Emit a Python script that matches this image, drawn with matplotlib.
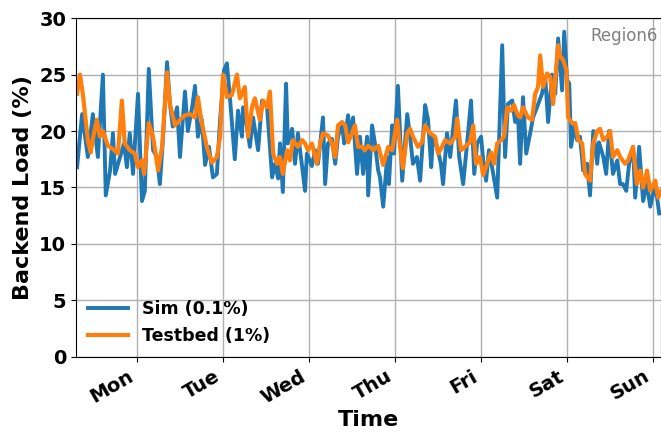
import numpy as np
import matplotlib
matplotlib.use("Agg")
import matplotlib.pyplot as plt

# ========== data (hours relative to Monday tick)

sim_hours = [-16.7, -15.3, -13.7, -12.3, -10.9, -9.5, -8.7, -7.5, -6.7, -6.1,
             -4.7, -3.6, -2.8, -2.0, -1.1, 0.3, 1.4, 2.2, 3.3, 4.5,
             5.6, 6.4, 7.3, 8.4, 9.2, 10.0, 11.2, 12.0, 13.4, 14.2,
             15.4, 16.2, 17.0, 18.1, 19.0, 20.1, 21.2, 22.3, 23.2, 24.3,
             25.1, 26.0, 26.8, 27.3, 28.2, 29.3, 29.6, 30.7, 31.5, 32.4,
             33.8, 34.9, 36.3, 37.7, 38.5, 39.4, 39.9, 40.7, 41.6, 42.1,
             43.3, 44.1, 44.9, 46.1, 46.9, 47.4, 48.8, 49.7, 50.5, 51.9,
             52.5, 53.3, 54.4, 55.3, 56.1, 57.2, 57.8, 58.9, 59.4, 60.3,
             61.4, 62.2, 63.1, 64.2, 64.5, 65.6, 66.4, 67.3, 67.8, 68.7,
             69.8, 70.3, 71.2, 71.7, 72.8, 74.0, 75.4, 76.2, 77.0, 78.1,
             79.0, 80.4, 81.2, 82.1, 82.6, 83.7, 84.8, 85.4, 86.5, 87.4,
             89.0, 89.9, 91.0, 92.1, 93.2, 94.1, 94.9, 96.0, 96.6, 97.4,
             98.2, 99.4, 100.5, 101.0, 101.9, 102.7, 103.5, 104.7, 105.5, 106.3,
             106.9, 107.7, 108.6, 109.7, 110.5, 111.6, 113.0, 113.9, 114.7, 115.8,
             116.7, 117.5, 118.6, 119.2, 120.0, 120.6, 121.1, 122.0, 122.8, 123.6,
             124.5, 125.6, 126.4, 127.3, 128.4, 128.9, 130.1, 130.9, 131.7, 132.8,
             134.0, 134.8, 135.6, 136.5, 137.3, 138.4, 139.0, 140.1, 141.2, 142.3,
             143.2, 144.6, 145.7]
sim_load = [16.8, 21.5, 17.7, 21.5, 17.7, 25.0, 14.3, 16.5, 19.8, 16.2,
            17.7, 18.9, 16.8, 19.8, 16.2, 23.3, 13.8, 14.7, 25.5, 18.3,
            17.7, 15.3, 19.5, 26.1, 22.4, 20.4, 22.1, 17.7, 23.5, 20.0,
            22.1, 24.0, 19.5, 21.0, 17.0, 18.6, 15.9, 16.2, 21.0, 25.4,
            26.0, 22.7, 19.5, 17.5, 21.8, 19.5, 22.1, 20.4, 18.6, 21.2,
            18.3, 22.7, 22.1, 15.9, 17.1, 15.8, 18.9, 14.6, 24.2, 18.9,
            20.2, 17.1, 19.8, 16.8, 14.7, 18.0, 16.9, 18.3, 17.1, 21.2,
            15.3, 18.9, 19.3, 17.1, 19.5, 20.7, 18.9, 21.4, 19.5, 21.2,
            16.2, 19.5, 16.2, 19.5, 14.3, 20.5, 18.9, 16.5, 15.9, 13.3,
            17.7, 15.3, 20.5, 18.0, 24.0, 15.6, 21.5, 19.5, 17.1, 17.7,
            15.6, 22.3, 21.0, 16.8, 19.5, 18.6, 17.1, 15.3, 19.8, 17.7,
            22.7, 17.7, 15.3, 18.9, 22.7, 16.2, 18.9, 19.5, 17.4, 15.6,
            18.3, 16.2, 14.1, 18.9, 27.6, 17.7, 22.4, 22.7, 20.8, 21.5,
            17.1, 23.0, 18.0, 19.8, 21.2, 22.1, 23.3, 24.8, 20.8, 25.0,
            23.3, 28.2, 23.6, 28.8, 24.5, 24.2, 18.6, 20.4, 19.2, 19.5,
            16.5, 17.1, 14.3, 20.0, 17.1, 19.0, 17.7, 16.2, 20.0, 16.2,
            17.4, 15.3, 15.3, 14.7, 17.1, 18.6, 14.1, 18.6, 13.8, 15.3,
            13.3, 15.3, 12.7]

testbed_hours = [-16.7, -15.9, -15.1, -13.7, -12.9, -12.3, -11.2, -10.3, -9.5, -8.1,
                 -6.7, -5.3, -4.2, -3.4, -2.0, -0.6, 0.3, 1.4, 2.0, 3.3,
                 4.5, 5.9, 7.0, 8.4, 9.2, 10.6, 12.0, 13.4, 14.8, 16.2,
                 17.0, 18.1, 19.5, 20.9, 22.3, 23.2, 24.0, 25.1, 26.5, 27.9,
                 28.7, 30.1, 31.0, 32.1, 32.9, 34.3, 35.2, 36.3, 37.1, 38.0,
                 39.1, 39.9, 40.7, 41.9, 42.7, 43.5, 44.9, 46.1, 46.9, 47.7,
                 48.8, 50.2, 51.1, 51.9, 53.3, 54.4, 55.3, 56.1, 57.2, 58.1,
                 58.9, 60.0, 60.8, 61.7, 62.8, 63.6, 64.5, 65.9, 67.3, 68.7,
                 70.1, 71.2, 72.6, 73.4, 74.2, 75.4, 76.2, 77.0, 78.4, 79.5,
                 80.4, 81.8, 83.2, 84.0, 85.1, 86.0, 87.4, 88.8, 89.3, 90.4,
                 91.5, 92.9, 93.8, 94.6, 95.7, 96.6, 97.7, 98.8, 99.6, 100.5,
                 101.6, 102.4, 103.3, 104.4, 105.2, 106.1, 106.9, 107.7, 109.1, 110.2,
                 111.1, 111.9, 112.5, 113.3, 114.4, 115.3, 116.1, 117.5, 118.1, 118.9,
                 119.8, 120.3, 121.4, 122.3, 123.1, 124.2, 125.0, 126.4, 127.3, 128.4,
                 129.2, 130.1, 131.2, 132.0, 132.8, 134.0, 134.8, 136.2, 137.0, 138.4,
                 139.5, 140.4, 141.2, 142.3, 143.2, 144.6, 145.4, 146.2]
testbed_load = [23.3, 25.0, 23.3, 19.2, 18.1, 19.3, 21.0, 19.5, 20.0, 18.7,
                18.4, 18.0, 22.7, 18.9, 18.3, 18.0, 16.8, 17.4, 16.2, 20.7,
                19.5, 16.5, 18.6, 25.2, 22.4, 20.5, 21.0, 21.4, 21.5, 21.2,
                23.0, 20.7, 18.6, 17.2, 17.7, 19.5, 25.0, 23.0, 23.2, 25.0,
                22.9, 23.9, 19.5, 22.1, 22.9, 21.0, 22.7, 22.1, 23.5, 18.0,
                17.1, 17.7, 16.2, 18.3, 17.4, 19.2, 18.6, 19.2, 18.9, 18.3,
                18.9, 17.1, 18.9, 19.8, 19.6, 18.9, 17.7, 20.5, 20.8, 20.5,
                19.0, 19.8, 20.5, 18.6, 18.6, 18.3, 18.7, 18.3, 18.7, 17.0,
                18.6, 18.3, 21.0, 18.6, 16.7, 19.8, 20.2, 19.5, 18.6, 19.0,
                20.5, 19.8, 19.5, 18.0, 18.6, 19.2, 18.9, 19.5, 21.1, 18.3,
                18.6, 19.0, 20.5, 17.1, 17.7, 16.1, 17.1, 18.1, 17.1, 18.9,
                19.2, 19.5, 22.1, 21.8, 22.3, 21.5, 21.2, 22.1, 21.2, 21.0,
                23.3, 23.9, 26.7, 23.9, 25.1, 24.8, 22.4, 27.6, 26.6, 26.3,
                25.4, 21.2, 20.7, 20.7, 19.2, 18.9, 16.2, 15.6, 18.9, 20.0,
                20.2, 19.2, 19.5, 20.0, 17.7, 18.3, 17.7, 17.1, 17.4, 18.6,
                15.3, 16.5, 15.0, 16.5, 14.7, 15.6, 14.1, 14.7]

day_labels = ["Mon", "Tue", "Wed", "Thu", "Fri", "Sat", "Sun"]
day_ticks = [24 * i for i in range(len(day_labels))]

# ========== plot

fig = plt.figure(figsize=(6.61, 4.32), dpi=100)
ax = fig.add_axes([0.115, 0.174, 0.885, 0.784])

ax.plot(sim_hours, sim_load, color="#1f77b4", lw=2.8, label="Sim (0.1%)")
ax.plot(testbed_hours, testbed_load, color="#ff7f0e", lw=3.0, label="Testbed (1%)")

ax.set_xlim(-17.0, 146.2)
ax.set_ylim(0, 30)
ax.set_xticks(day_ticks)
ax.set_xticklabels(day_labels, rotation=30, ha="right")
ax.set_yticks(np.arange(0, 31, 5))
ax.tick_params(labelsize=14)
for lbl in ax.get_xticklabels() + ax.get_yticklabels():
    lbl.set_fontweight("bold")

ax.grid(True, color="#b0b0b0", lw=1)
ax.set_axisbelow(True)

ax.set_xlabel("Time", fontsize=16, fontweight="bold", labelpad=2)
ax.set_ylabel("Backend Load (%)", fontsize=16, fontweight="bold")

ax.text(0.995, 0.975, "Region6", transform=ax.transAxes, ha="right", va="top",
        fontsize=12, color="gray")

ax.legend(loc="lower left", frameon=False, prop={"weight": "bold", "size": 12.5},
          borderaxespad=0.3, handlelength=2.3, bbox_to_anchor=(0.0, 0.0))

fig.savefig("out.png", dpi=100)
